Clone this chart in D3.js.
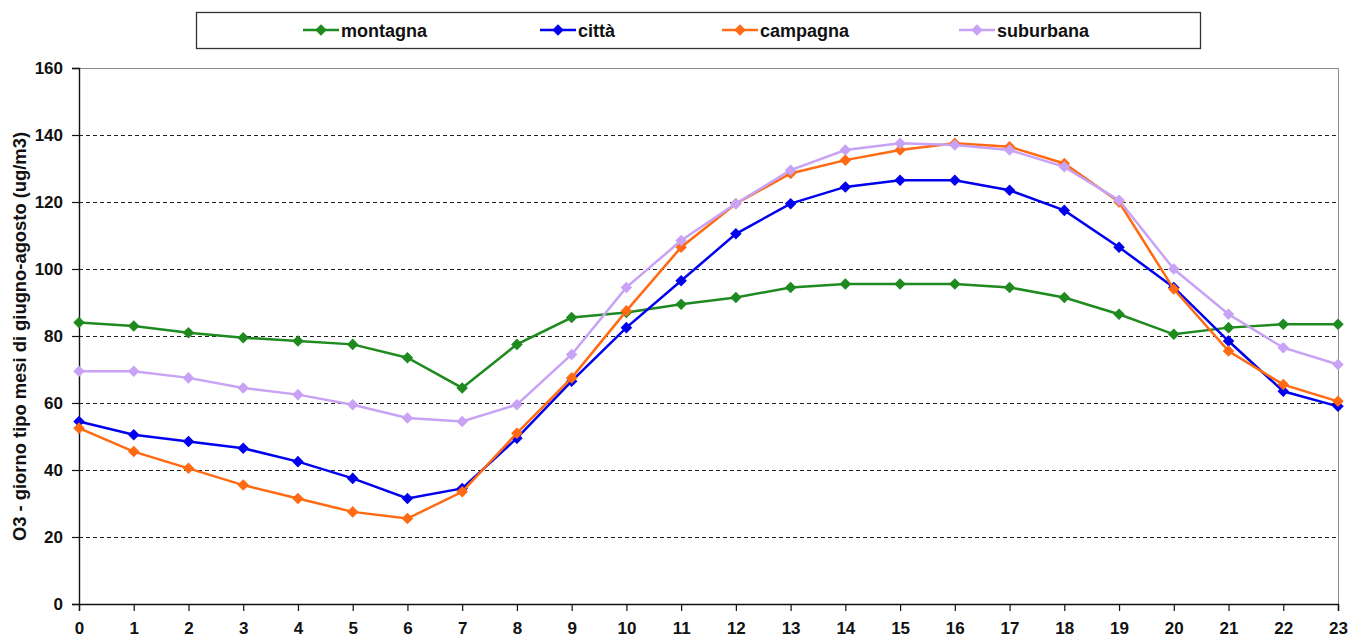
<!DOCTYPE html>
<html>
<head>
<meta charset="utf-8">
<script src="https://cdn.jsdelivr.net/npm/d3@7"></script>
<style>
  body { margin: 0; background: #fff; }
  svg text { font-family: "Liberation Sans", Arial, sans-serif; font-weight: bold; fill: #111; }
</style>
</head>
<body>
<div id="chart"></div>
<script>
var hours = d3.range(0, 24);
var yTicks = [0, 20, 40, 60, 80, 100, 120, 140, 160];
var seriesNames = ["montagna", "città", "campagna", "suburbana"];
var seriesColors = ["#1f8a1f", "#0000ee", "#ff6a12", "#c8a2f4"];

var montagna = [84, 83, 81, 79.5, 78.5, 77.5, 73.5, 64.5, 77.5, 85.5, 87, 89.5, 91.5, 94.5, 95.5, 95.5, 95.5, 94.5, 91.5, 86.5, 80.5, 82.5, 83.5, 83.5];
var citta = [54.5, 50.5, 48.5, 46.5, 42.5, 37.5, 31.5, 34.5, 49.5, 66.5, 82.5, 96.5, 110.5, 119.5, 124.5, 126.5, 126.5, 123.5, 117.5, 106.5, 94.5, 78.5, 63.5, 59];
var campagna = [52.5, 45.5, 40.5, 35.5, 31.5, 27.5, 25.5, 33.5, 51, 67.5, 87.5, 106.5, 119.5, 128.5, 132.5, 135.5, 137.5, 136.5, 131.5, 120, 94, 75.5, 65.5, 60.5];
var suburbana = [69.5, 69.5, 67.5, 64.5, 62.5, 59.5, 55.5, 54.5, 59.5, 74.5, 94.5, 108.5, 119.5, 129.5, 135.5, 137.5, 137, 135.5, 130.5, 120.5, 100, 86.5, 76.5, 71.5];

var allSeries = [montagna, citta, campagna, suburbana];

var W = 1352, H = 637;
var plotLeft = 79, plotRight = 1338, plotTop = 68, plotBottom = 604;

var svg = d3.select("#chart").append("svg")
  .attr("width", W)
  .attr("height", H);

var x = d3.scaleLinear().domain([0, 23]).range([plotLeft, plotRight]);
var y = d3.scaleLinear().domain([0, 160]).range([plotBottom, plotTop]);

// plot frame (top / right in grey)
svg.append("path")
  .attr("d", "M" + plotLeft + "," + (plotTop + 0.5) + "H" + (plotRight + 0.5) + "V" + plotBottom)
  .attr("fill", "none")
  .attr("stroke", "#8a8a8a")
  .attr("stroke-width", 1);

// dashed gridlines
svg.append("g")
  .selectAll("line")
  .data(yTicks.filter(function(d) { return d > 0 && d < 160; }))
  .join("line")
  .attr("x1", plotLeft)
  .attr("x2", plotRight)
  .attr("y1", function(d) { return Math.round(y(d)) + 0.5; })
  .attr("y2", function(d) { return Math.round(y(d)) + 0.5; })
  .attr("stroke", "#222")
  .attr("stroke-width", 1)
  .attr("stroke-dasharray", "4,3");

// axes
var yAxis = svg.append("g")
  .attr("transform", "translate(" + plotLeft + ",0)")
  .call(d3.axisLeft(y).tickValues(yTicks).tickSize(7).tickPadding(9));
yAxis.selectAll("text").style("font-size", "17px");

var xAxis = svg.append("g")
  .attr("transform", "translate(0," + plotBottom + ")")
  .call(d3.axisBottom(x).tickValues(hours).tickSize(7).tickPadding(11));
xAxis.selectAll("text").style("font-size", "17px");

svg.selectAll(".domain").attr("stroke", "#111").attr("stroke-width", 1.4);
svg.selectAll(".tick line").attr("stroke", "#111").attr("stroke-width", 1.2);

// y label
svg.append("text")
  .attr("transform", "translate(26," + ((132 + 541) / 2) + ") rotate(-90)")
  .attr("text-anchor", "middle")
  .attr("textLength", 409)
  .attr("lengthAdjust", "spacingAndGlyphs")
  .style("font-size", "18px")
  .text("O3 - giorno tipo mesi di giugno-agosto (ug/m3)");

// lines and markers
var line = d3.line()
  .x(function(d, i) { return x(hours[i]); })
  .y(function(d) { return y(d); });

var diamond = d3.symbol().type(d3.symbolDiamond2).size(85);

allSeries.forEach(function(vals, s) {
  svg.append("path")
    .datum(vals)
    .attr("d", line)
    .attr("fill", "none")
    .attr("stroke", seriesColors[s])
    .attr("stroke-width", 2.5);

  svg.append("g")
    .selectAll("path")
    .data(vals)
    .join("path")
    .attr("d", diamond)
    .attr("transform", function(d, i) { return "translate(" + x(hours[i]) + "," + y(d) + ")"; })
    .attr("fill", seriesColors[s]);
});

// legend
svg.append("rect")
  .attr("x", 196.5)
  .attr("y", 12.5)
  .attr("width", 1004)
  .attr("height", 36)
  .attr("fill", "#fff")
  .attr("stroke", "#333")
  .attr("stroke-width", 1.3);

var legendX = [303, 540, 722, 959];
seriesNames.forEach(function(name, s) {
  var g = svg.append("g").attr("transform", "translate(" + legendX[s] + ",30)");
  g.append("line")
    .attr("x1", 0).attr("x2", 36)
    .attr("stroke", seriesColors[s])
    .attr("stroke-width", 2.5);
  g.append("path")
    .attr("d", diamond)
    .attr("transform", "translate(18,0)")
    .attr("fill", seriesColors[s]);
  g.append("text")
    .attr("x", 38)
    .attr("y", 7)
    .style("font-size", "18px")
    .text(name);
});
</script>
</body>
</html>
